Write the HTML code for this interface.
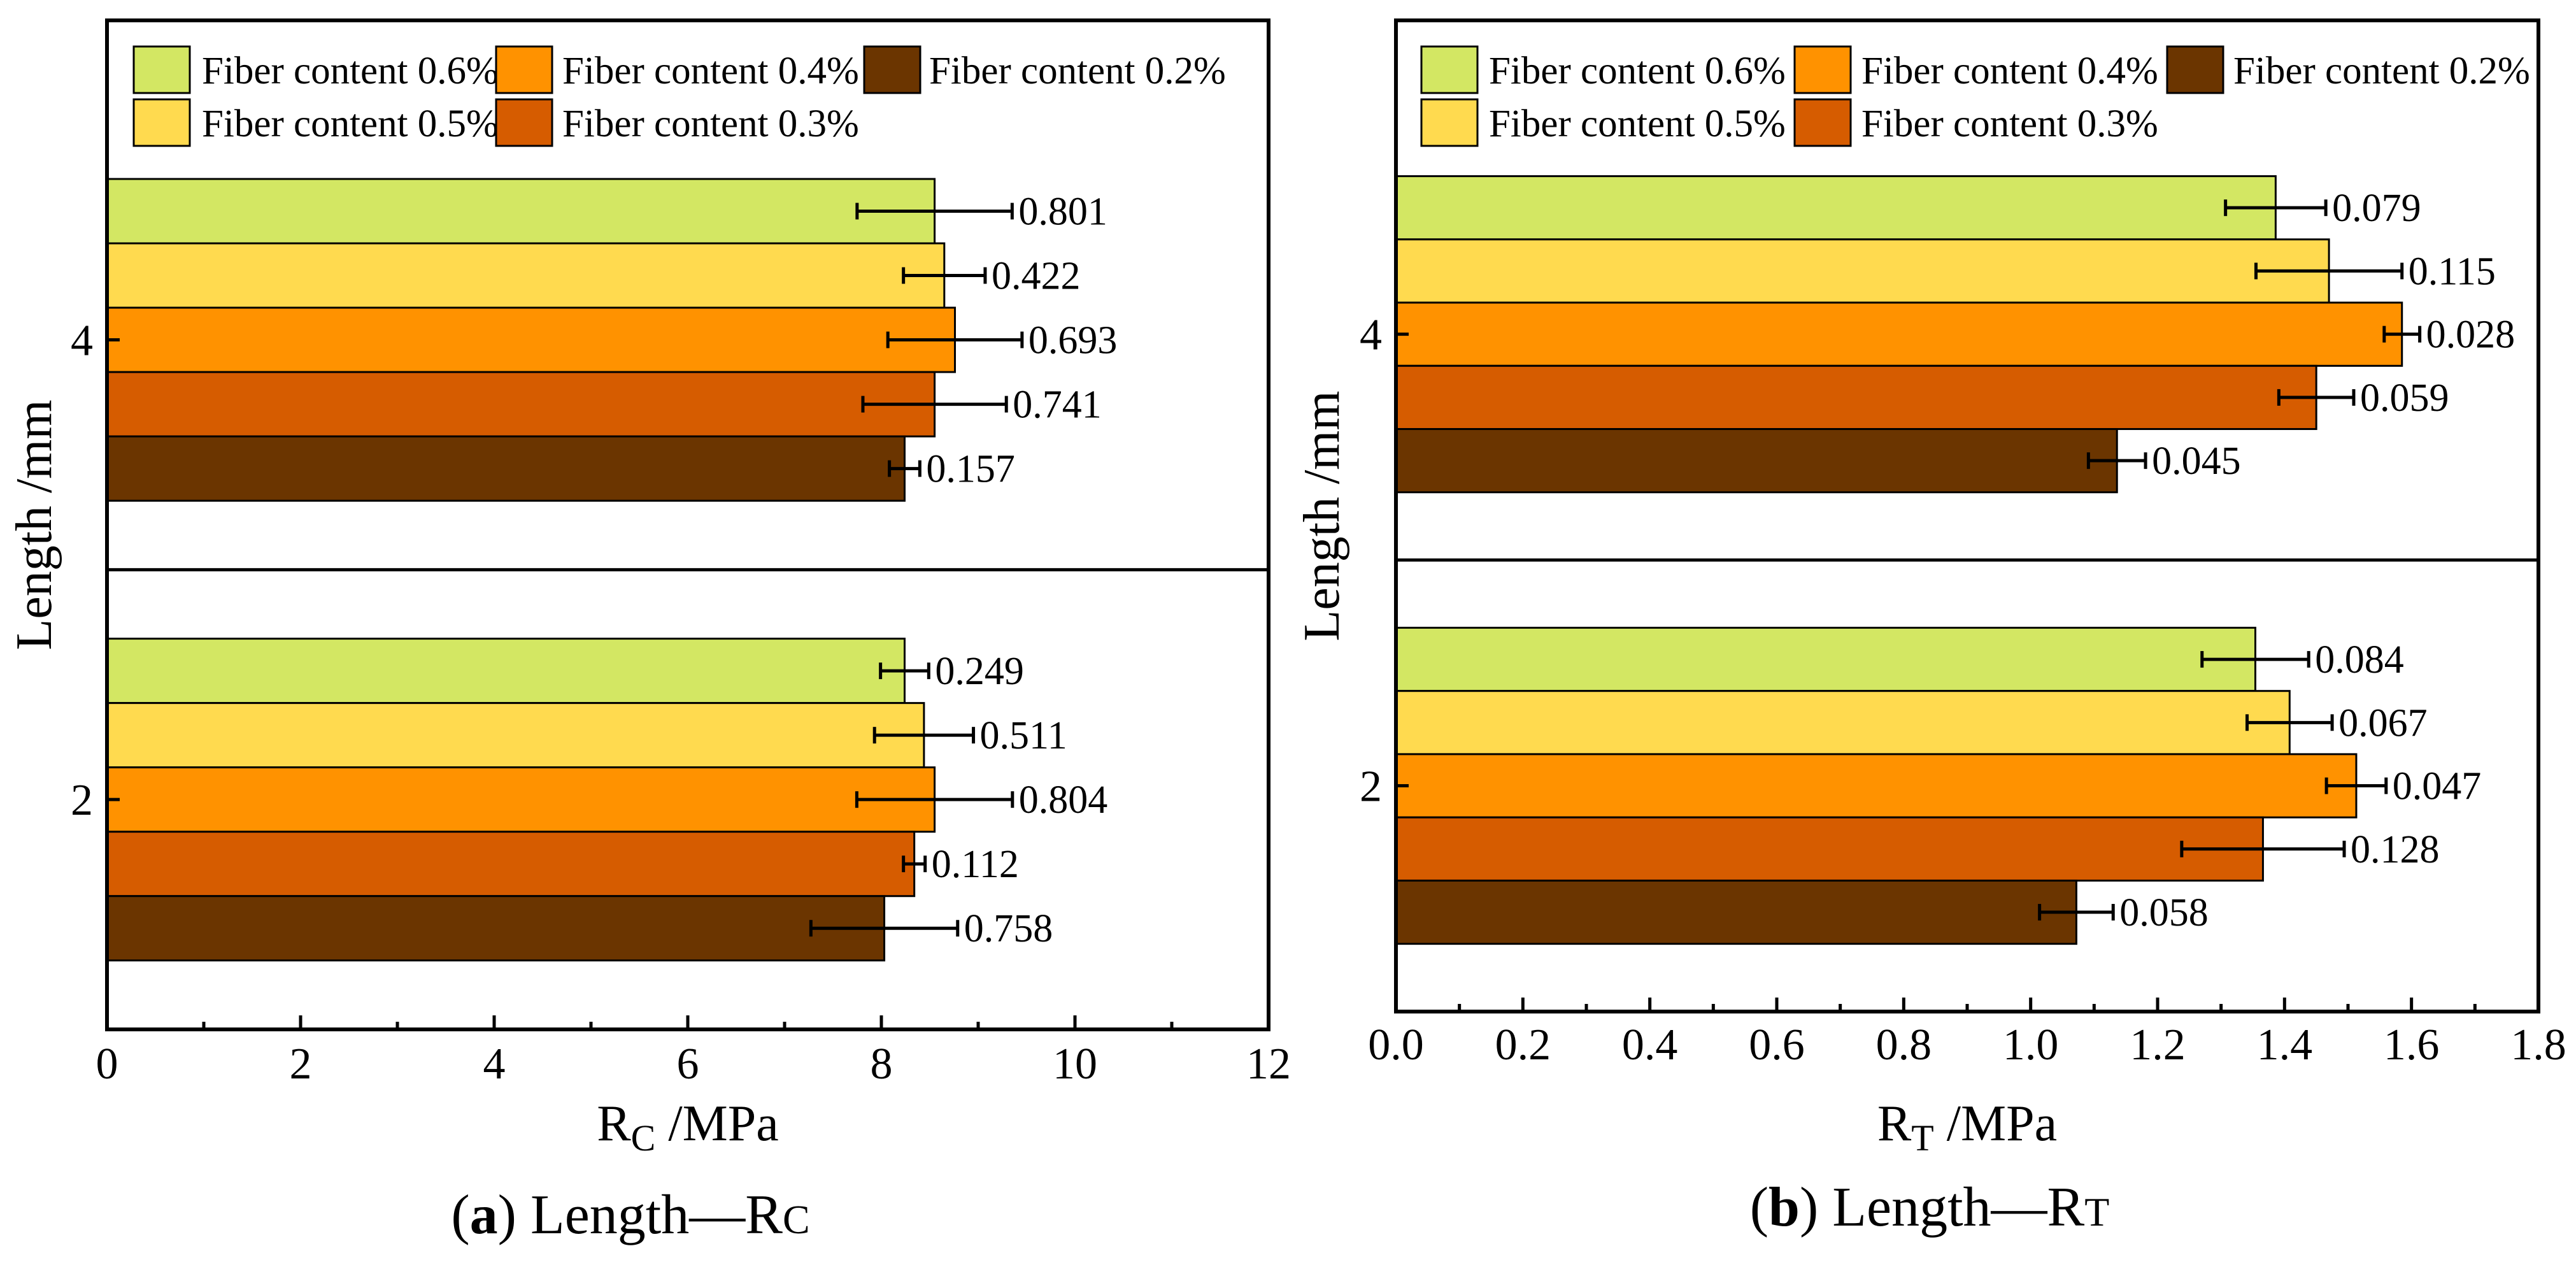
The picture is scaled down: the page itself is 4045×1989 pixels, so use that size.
<!DOCTYPE html>
<html><head><meta charset="utf-8"><style>
html,body{margin:0;padding:0;background:#fff;}
svg{display:block;}
svg text{font-family:"Liberation Serif","DejaVu Serif","Times New Roman",serif;}
</style></head>
<body>
<svg id="chart" width="4045" height="1989" viewBox="0 0 4045 1989" font-family="Liberation Serif, DejaVu Serif, serif" xmlns="http://www.w3.org/2000/svg"></svg>
<script>
const series = ["Fiber content 0.6%","Fiber content 0.5%","Fiber content 0.4%","Fiber content 0.3%","Fiber content 0.2%"];
const colors = ["#D3E763","#FFDA4F","#FF9200","#D65C00","#6B3500"];
const categories = [4, 2];
const rcValues4 = [8.55, 8.65, 8.76, 8.55, 8.24];
const rcValues2 = [8.24, 8.44, 8.55, 8.34, 8.03];
const rcErrors4 = [0.801, 0.422, 0.693, 0.741, 0.157];
const rcErrors2 = [0.249, 0.511, 0.804, 0.112, 0.758];
const rtValues4 = [1.386, 1.470, 1.585, 1.450, 1.136];
const rtValues2 = [1.354, 1.408, 1.513, 1.366, 1.072];
const rtErrors4 = [0.079, 0.115, 0.028, 0.059, 0.045];
const rtErrors2 = [0.084, 0.067, 0.047, 0.128, 0.058];
const rcTicks = ["0","2","4","6","8","10","12"];
const rtTicks = ["0.0","0.2","0.4","0.6","0.8","1.0","1.2","1.4","1.6","1.8"];

const NS = "http://www.w3.org/2000/svg";
const svg = document.getElementById("chart");
const FF = "Liberation Serif, DejaVu Serif, serif";
function mk(tag, attrs, parent, text){
  const e = document.createElementNS(NS, tag);
  for (const k in attrs) e.setAttribute(k, attrs[k]);
  if (tag === "text") e.setAttribute("font-family", FF);
  if (text !== undefined) e.textContent = text;
  (parent || svg).appendChild(e);
  return e;
}

function panel(cfg){
  const g = mk("g", {});
  
  
  const L = cfg.left, R = cfg.right, T = 32, B = cfg.bottom;
  const yMin = 1, yMax = 5.39;
  const xs = v => L + (v - 0) / cfg.xMax * (R - L);
  const ys = v => B - (v - yMin) / (yMax - yMin) * (B - T);
  const vals = [cfg.v4, cfg.v2], errs = [cfg.e4, cfg.e2];
  categories.forEach((c, ci) => {
    series.forEach((s, i) => {
      const y0 = ys(c + 0.7 - 0.28 * i), y1 = ys(c + 0.7 - 0.28 * (i + 1));
      const v = vals[ci][i], e = errs[ci][i];
      const bar = mk("rect", {x: L, y: y0, width: xs(v) - L, height: y1 - y0, fill: colors[i], stroke: "#000", "stroke-width": 3}, g);
      
      
      const cy = (y0 + y1) / 2;
      const eg = mk("g", {stroke: "#000", "stroke-width": 5}, g);
      
      
      mk("line", {x1: xs(v - e), x2: xs(v + e), y1: cy, y2: cy}, eg);
      mk("line", {x1: xs(v - e), x2: xs(v - e), y1: cy - 13, y2: cy + 13}, eg);
      mk("line", {x1: xs(v + e), x2: xs(v + e), y1: cy - 13, y2: cy + 13}, eg);
      const lbl = mk("text", {x: xs(v + e) + 10, y: cy + 21, "font-size": 62}, g, e.toFixed(3));
      
      
    });
  });
  const dv = mk("line", {x1: L, x2: R, y1: ys(3), y2: ys(3), stroke: "#000", "stroke-width": 5}, g);
  
  
  const fr = mk("rect", {x: L, y: T, width: R - L, height: B - T, fill: "none", stroke: "#000", "stroke-width": 6}, g);
  
  
  const n = cfg.ticks.length - 1;
  for (let k = 0; k <= n * 2; k++) {
    const v = cfg.xMax * k / (n * 2);
    const major = k % 2 === 0;
    mk("line", {x1: xs(v), x2: xs(v), y1: B, y2: B - (major ? 22 : 12), stroke: "#000", "stroke-width": 5}, g);
  }
  cfg.ticks.forEach((t, k) => {
    const tl = mk("text", {x: xs(cfg.xMax * k / n), y: B + cfg.tickDy, "font-size": 70, "text-anchor": "middle"}, g, t);
    
    
  });
  categories.forEach(c => {
    mk("line", {x1: L, x2: L + 20, y1: ys(c), y2: ys(c), stroke: "#000", "stroke-width": 5}, g);
    const tl = mk("text", {x: L - 22, y: ys(c) + 24, "font-size": 70, "text-anchor": "end"}, g, String(c));
    
    
  });
  const xt = mk("text", {x: (L + R) / 2, y: 1790, "font-size": 80, "text-anchor": "middle"}, g);
  
  
  mk("tspan", {}, xt, "R");
  mk("tspan", {"font-size": 58, dy: 16}, xt, cfg.sub);
  mk("tspan", {dy: -16}, xt, " /MPa");
  const yt = mk("text", {x: 0, y: 0, "font-size": 80, "text-anchor": "middle", transform: "translate(" + cfg.ytX + "," + ((T + B) / 2) + ") rotate(-90)"}, g, "Length /mm");
  
  
  const order = [[0,0,0],[1,0,1],[2,1,0],[3,1,1],[4,2,0]];
  order.forEach(([i, col, row]) => {
    const lg = mk("g", {}, g);
    
    
    const y = 73 + row * 83;
    mk("rect", {x: cfg.legBox[col], y: y, width: 88, height: 73, fill: colors[i], stroke: "#000", "stroke-width": 3}, lg);
    mk("text", {x: cfg.legText[col], y: y + 58, "font-size": 61}, lg, series[i]);
  });
  const cap = mk("text", {x: cfg.capX, y: cfg.capY, "font-size": 88, "text-anchor": "middle"}, g);
  
  
  mk("tspan", {}, cap, "(");
  mk("tspan", {"font-weight": "bold"}, cap, cfg.letter);
  mk("tspan", {}, cap, ") Length\u2014R");
  mk("tspan", {"font-size": 64}, cap, cfg.sub);
}

panel({name: "panel-a-length-rc", left: 168, right: 1992, bottom: 1616, xMax: 12, ticks: rcTicks,
  v4: rcValues4, v2: rcValues2, e4: rcErrors4, e2: rcErrors2, tickDy: 77, sub: "C", ytX: 80,
  legBox: [210, 779, 1357], legText: [317, 883, 1459], capX: 990, capY: 1936, letter: "a"});
panel({name: "panel-b-length-rt", left: 2192, right: 3986, bottom: 1588, xMax: 1.8, ticks: rtTicks,
  v4: rtValues4, v2: rtValues2, e4: rtErrors4, e2: rtErrors2, tickDy: 75, sub: "T", ytX: 2102,
  legBox: [2232, 2818, 3403], legText: [2338, 2923, 3507], capX: 3030, capY: 1924, letter: "b"});
</script>
</body></html>
